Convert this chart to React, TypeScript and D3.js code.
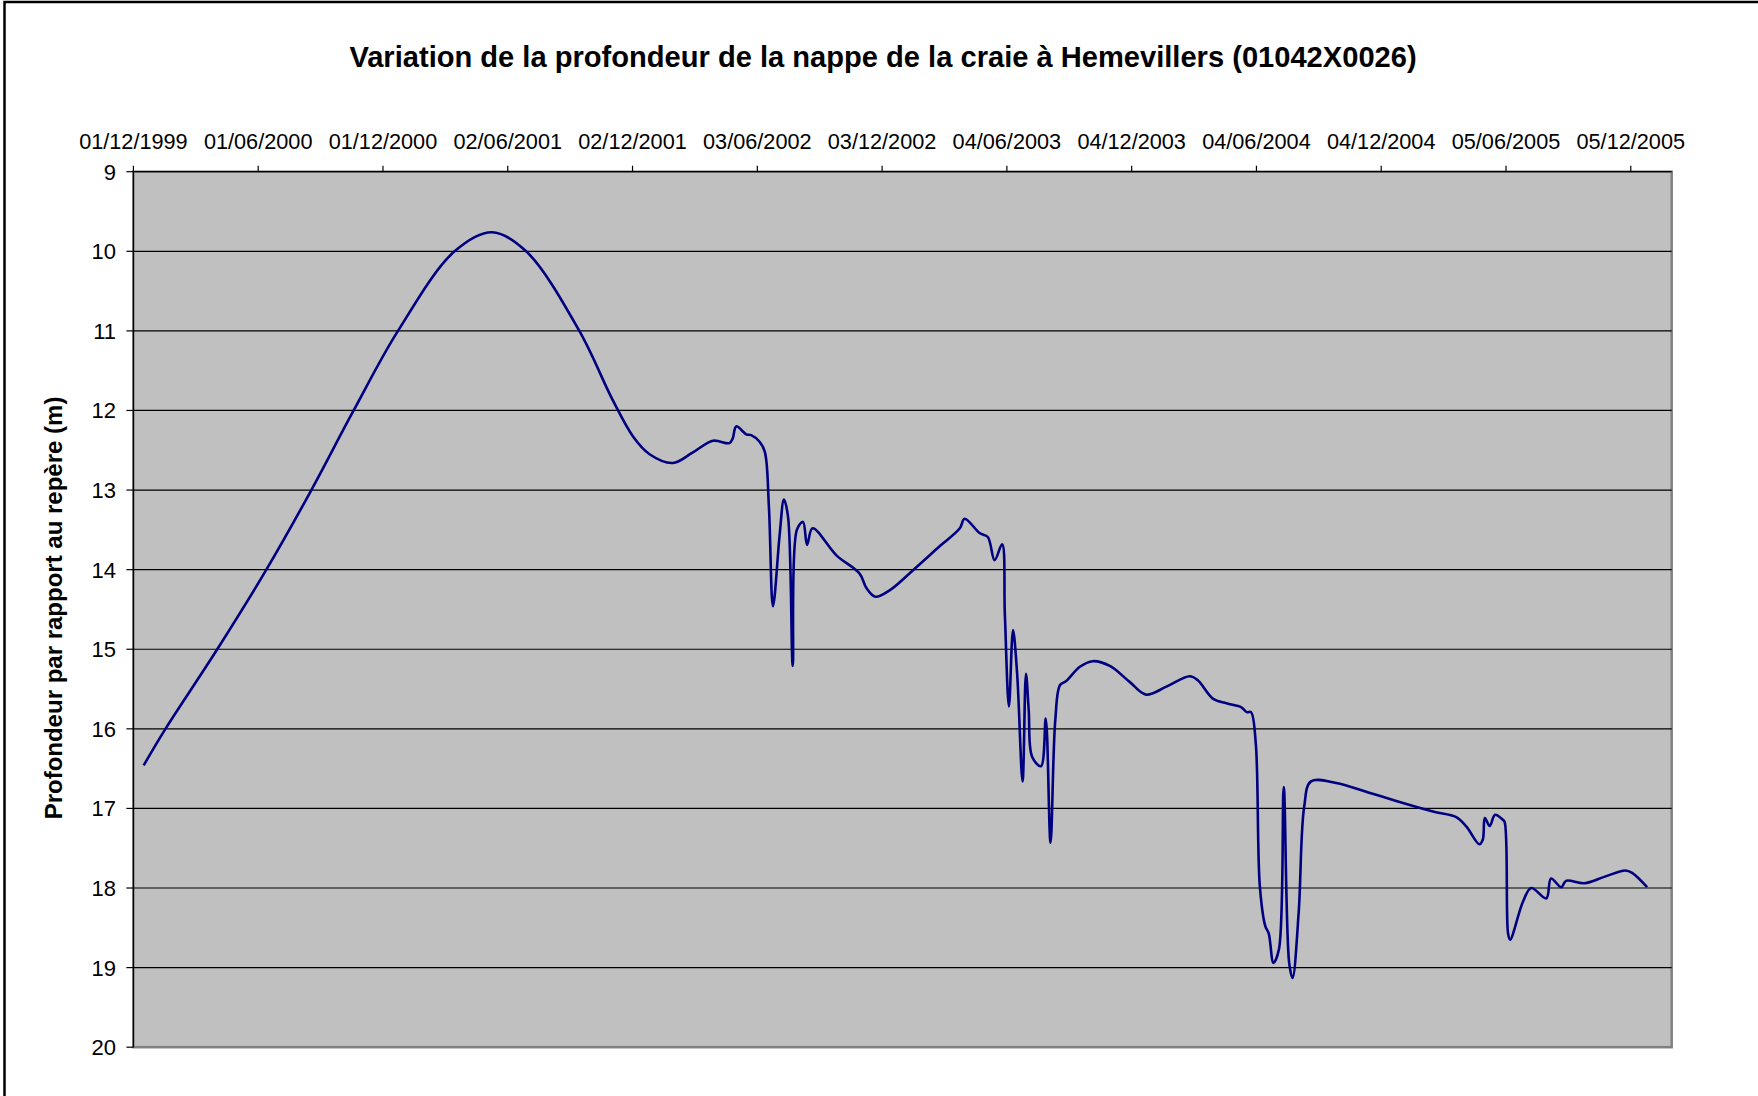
import React from "react";
import * as d3 from "d3";

const title = "Variation de la profondeur de la nappe de la craie à Hemevillers (01042X0026)";
const yTitle = "Profondeur par rapport au repère (m)";

const dates: string[] = [
  "1999-12-16", "2000-01-17", "2000-04-02", "2000-06-13", "2000-08-18", "2000-10-19",
  "2000-12-23", "2001-03-16", "2001-05-10", "2001-06-29", "2001-09-15", "2001-11-03",
  "2001-12-03", "2001-12-27", "2002-01-30", "2002-02-28", "2002-03-30", "2002-04-23",
  "2002-04-28", "2002-05-03", "2002-05-18", "2002-05-25", "2002-06-06", "2002-06-14",
  "2002-06-20", "2002-06-26", "2002-07-06", "2002-07-12", "2002-07-18", "2002-07-25",
  "2002-07-31", "2002-08-09", "2002-08-15", "2002-08-23", "2002-09-27", "2002-10-31",
  "2002-11-10", "2002-11-23", "2002-12-14", "2003-01-17", "2003-02-25", "2003-03-27",
  "2003-04-03", "2003-04-25", "2003-05-07", "2003-05-17", "2003-05-28", "2003-06-01",
  "2003-06-07", "2003-06-13", "2003-06-19", "2003-06-27", "2003-07-02", "2003-07-06",
  "2003-07-11", "2003-07-24", "2003-07-31", "2003-08-07", "2003-08-14", "2003-08-21",
  "2003-08-30", "2003-09-19", "2003-10-08", "2003-11-02", "2003-12-01", "2003-12-25",
  "2004-01-24", "2004-02-27", "2004-03-10", "2004-04-01", "2004-04-21", "2004-05-13",
  "2004-05-21", "2004-05-27", "2004-06-03", "2004-06-09", "2004-06-17", "2004-06-22",
  "2004-06-29", "2004-07-07", "2004-07-14", "2004-07-22", "2004-07-27", "2004-08-05",
  "2004-08-13", "2004-08-23", "2004-09-29", "2004-11-12", "2004-12-31", "2005-02-18",
  "2005-03-24", "2005-04-08", "2005-04-27", "2005-05-02", "2005-05-05", "2005-05-12",
  "2005-05-20", "2005-05-31", "2005-06-03", "2005-06-08", "2005-06-11", "2005-06-30",
  "2005-07-12", "2005-08-03", "2005-08-10", "2005-08-25", "2005-09-01", "2005-09-28",
  "2005-10-27", "2005-11-27", "2005-12-07", "2005-12-29",
];

const depths: number[] = [
  16.46, 16.0, 15.0, 14.0, 13.0, 12.0,
  11.0, 10.0, 9.76, 10.0, 11.0, 11.87,
  12.33, 12.55, 12.66, 12.53, 12.38, 12.41,
  12.35, 12.2, 12.3, 12.31, 12.39, 12.52,
  13.21, 14.46, 13.54, 13.12, 13.33, 15.21,
  13.5, 13.4, 13.69, 13.48, 13.82, 14.05,
  14.23, 14.34, 14.26, 14.01, 13.71, 13.48,
  13.36, 13.54, 13.59, 13.88, 13.68, 14.55,
  15.72, 14.76, 15.3, 16.66, 15.31, 15.76,
  16.35, 16.47, 15.87, 17.43, 15.89, 15.45,
  15.4, 15.22, 15.15, 15.21, 15.41, 15.57,
  15.47, 15.34, 15.39, 15.62, 15.68, 15.73,
  15.79, 15.79, 16.18, 17.98, 18.48, 18.57,
  18.94, 18.77, 16.73, 18.94, 19.13, 18.3,
  16.98, 16.66, 16.68, 16.79, 16.92, 17.04,
  17.11, 17.23, 17.45, 17.39, 17.12, 17.22,
  17.08, 17.14, 17.17, 18.57, 18.65, 18.17,
  18.0, 18.13, 17.88, 17.99, 17.91, 17.94,
  17.86, 17.78, 17.81, 17.99,
];

const xAxisStart = "1999-12-01";
const xAxisEnd = "2006-02-03";
const xTickStepDays = 183;
const xTickCount = 13;
const yTicks: number[] = [9, 10, 11, 12, 13, 14, 15, 16, 17, 18, 19, 20];

const W = 1758;
const H = 1096;
const plot = { left: 133.4, right: 1671.7, top: 171.7, bottom: 1047.2 };
const FONT = "'Liberation Sans', Arial, Helvetica, sans-serif";

export default function App() {
  const parse = d3.utcParse("%Y-%m-%d");
  const start = parse(xAxisStart)!;
  const end = parse(xAxisEnd)!;
  const x = d3.scaleUtc().domain([start, end]).range([plot.left, plot.right]);
  const y = d3.scaleLinear().domain([9, 20]).range([plot.top, plot.bottom]);
  const data = dates.map((d, i) => ({ date: parse(d)!, v: depths[i] }));
  const line = d3
    .line<{ date: Date; v: number }>()
    .x((d) => x(d.date))
    .y((d) => y(d.v))
    .curve(d3.curveCatmullRom.alpha(0.5));
  const xTicks = d3.range(xTickCount).map((k) => d3.utcDay.offset(start, k * xTickStepDays));
  const fmt = d3.utcFormat("%d/%m/%Y");

  return (
    <svg
      width={W}
      height={H}
      style={{ position: "absolute", left: 0, top: 0, background: "#fff" }}
      fontFamily={FONT}
    >
      <rect x={0} y={0} width={W} height={H} fill="#fff" />
      <rect x={4.5} y={2} width={W + 40} height={H + 40} fill="none" stroke="#000" strokeWidth={2.5} />
      <text x={883} y={67} textAnchor="middle" fontSize={29.1} fontWeight="bold" fill="#000">
        {title}
      </text>
      <rect
        x={plot.left}
        y={plot.top}
        width={plot.right - plot.left}
        height={plot.bottom - plot.top}
        fill="#C0C0C0"
        stroke="#808080"
        strokeWidth={2.5}
      />
      {yTicks
        .filter((t) => t > 9 && t < 20)
        .map((t) => (
          <line key={"g" + t} x1={plot.left} x2={plot.right} y1={y(t)} y2={y(t)} stroke="#000" strokeWidth={1.2} />
        ))}
      <line x1={plot.left} x2={plot.right} y1={plot.top} y2={plot.top} stroke="#000" strokeWidth={1.2} />
      <line x1={plot.left} x2={plot.left} y1={plot.top} y2={plot.bottom} stroke="#000" strokeWidth={1.2} />
      {yTicks.map((t) => (
        <g key={"y" + t}>
          <line x1={plot.left - 7} x2={plot.left} y1={y(t)} y2={y(t)} stroke="#000" strokeWidth={1.2} />
          <text x={116} y={y(t)} dy="0.36em" textAnchor="end" fontSize={22} fill="#000">
            {t}
          </text>
        </g>
      ))}
      {xTicks.map((t, i) => (
        <g key={"x" + i}>
          <line x1={x(t)} x2={x(t)} y1={plot.top - 6} y2={plot.top} stroke="#000" strokeWidth={1.2} />
          <text x={x(t)} y={149} textAnchor="middle" fontSize={21.7} fill="#000">
            {fmt(t)}
          </text>
        </g>
      ))}
      <text
        transform={`translate(62, 608) rotate(-90)`}
        textAnchor="middle"
        fontSize={24}
        fontWeight="bold"
        fill="#000"
      >
        {yTitle}
      </text>
      <path d={line(data) || ""} fill="none" stroke="#000080" strokeWidth={2.6} strokeLinejoin="round" />
    </svg>
  );
}
